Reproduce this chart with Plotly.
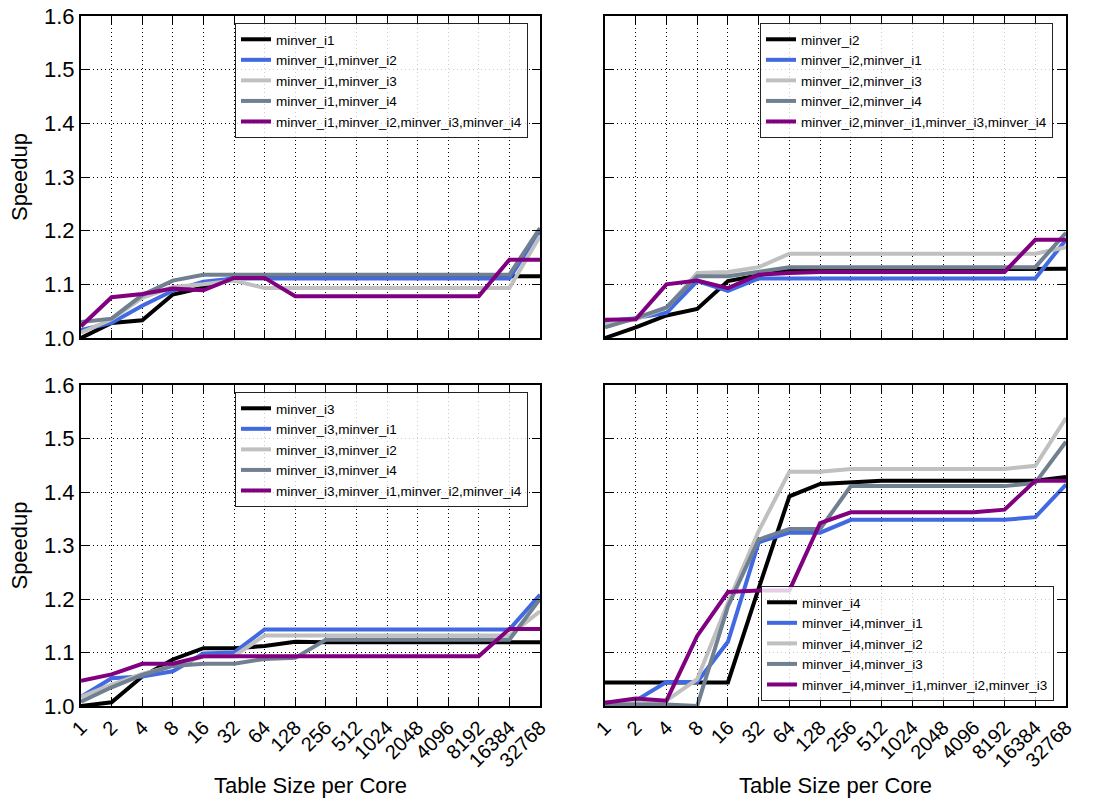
import plotly.graph_objects as go

categories = ["1", "2", "4", "8", "16", "32", "64", "128", "256", "512",
              "1024", "2048", "4096", "8192", "16384", "32768"]

# Panel 1: minver_i1
p1_names = ["minver_i1", "minver_i1,minver_i2", "minver_i1,minver_i3",
            "minver_i1,minver_i4", "minver_i1,minver_i2,minver_i3,minver_i4"]
p1_black = [1.0, 1.028, 1.033, 1.081, 1.094, 1.113, 1.113, 1.113, 1.113, 1.113, 1.113, 1.113, 1.113, 1.113, 1.115, 1.115]
p1_blue = [1.015, 1.028, 1.06, 1.088, 1.105, 1.111, 1.111, 1.111, 1.111, 1.111, 1.111, 1.111, 1.111, 1.111, 1.111, 1.2]
p1_silver = [1.01, 1.035, 1.075, 1.095, 1.1, 1.107, 1.093, 1.093, 1.093, 1.093, 1.093, 1.093, 1.093, 1.093, 1.093, 1.19]
p1_slate = [1.03, 1.036, 1.08, 1.107, 1.118, 1.118, 1.118, 1.118, 1.118, 1.118, 1.118, 1.118, 1.118, 1.118, 1.118, 1.205]
p1_purple = [1.022, 1.076, 1.082, 1.092, 1.089, 1.112, 1.112, 1.078, 1.078, 1.078, 1.078, 1.078, 1.078, 1.078, 1.146, 1.146]

# Panel 2: minver_i2
p2_names = ["minver_i2", "minver_i2,minver_i1", "minver_i2,minver_i3",
            "minver_i2,minver_i4", "minver_i2,minver_i1,minver_i3,minver_i4"]
p2_black = [1.0, 1.02, 1.042, 1.054, 1.106, 1.117, 1.128, 1.128, 1.128, 1.128, 1.128, 1.128, 1.128, 1.128, 1.129, 1.129]
p2_blue = [1.031, 1.037, 1.047, 1.106, 1.088, 1.111, 1.111, 1.111, 1.111, 1.111, 1.111, 1.111, 1.111, 1.111, 1.111, 1.183]
p2_silver = [1.025, 1.035, 1.056, 1.121, 1.123, 1.132, 1.157, 1.157, 1.157, 1.157, 1.157, 1.157, 1.157, 1.157, 1.157, 1.169]
p2_slate = [1.02, 1.037, 1.057, 1.115, 1.115, 1.124, 1.132, 1.132, 1.132, 1.132, 1.132, 1.132, 1.132, 1.132, 1.132, 1.196]
p2_purple = [1.034, 1.035, 1.1, 1.107, 1.093, 1.118, 1.121, 1.123, 1.123, 1.123, 1.123, 1.123, 1.123, 1.123, 1.183, 1.183]

# Panel 3: minver_i3
p3_names = ["minver_i3", "minver_i3,minver_i1", "minver_i3,minver_i2",
            "minver_i3,minver_i4", "minver_i3,minver_i1,minver_i2,minver_i4"]
p3_black = [1.0, 1.007, 1.055, 1.087, 1.108, 1.108, 1.112, 1.12, 1.119, 1.119, 1.119, 1.119, 1.119, 1.119, 1.119, 1.119]
p3_blue = [1.017, 1.052, 1.055, 1.065, 1.098, 1.1, 1.143, 1.143, 1.143, 1.143, 1.143, 1.143, 1.143, 1.143, 1.143, 1.208]
p3_silver = [1.017, 1.04, 1.06, 1.075, 1.093, 1.093, 1.132, 1.132, 1.132, 1.132, 1.132, 1.132, 1.132, 1.132, 1.132, 1.177]
p3_slate = [1.008, 1.035, 1.058, 1.075, 1.079, 1.079, 1.088, 1.09, 1.124, 1.124, 1.124, 1.124, 1.124, 1.124, 1.124, 1.2]
p3_purple = [1.047, 1.059, 1.079, 1.079, 1.093, 1.093, 1.093, 1.093, 1.093, 1.093, 1.093, 1.093, 1.093, 1.093, 1.144, 1.144]

# Panel 4: minver_i4
p4_names = ["minver_i4", "minver_i4,minver_i1", "minver_i4,minver_i2",
            "minver_i4,minver_i3", "minver_i4,minver_i1,minver_i2,minver_i3"]
p4_black = [1.044, 1.044, 1.044, 1.044, 1.044, 1.22, 1.392, 1.415, 1.418, 1.421, 1.421, 1.421, 1.421, 1.421, 1.421, 1.428]
p4_blue = [1.006, 1.01, 1.045, 1.045, 1.12, 1.306, 1.324, 1.324, 1.348, 1.348, 1.348, 1.348, 1.348, 1.348, 1.353, 1.414]
p4_silver = [1.006, 1.006, 1.01, 1.05, 1.193, 1.327, 1.438, 1.438, 1.443, 1.443, 1.443, 1.443, 1.443, 1.443, 1.449, 1.538]
p4_slate = [1.003, 1.003, 1.003, 1.0, 1.186, 1.311, 1.331, 1.331, 1.411, 1.411, 1.411, 1.411, 1.411, 1.411, 1.417, 1.494]
p4_purple = [1.006, 1.014, 1.01, 1.131, 1.213, 1.216, 1.216, 1.342, 1.362, 1.362, 1.362, 1.362, 1.362, 1.367, 1.421, 1.421]

y_ticks = [1.0, 1.1, 1.2, 1.3, 1.4, 1.5, 1.6]
y_ticklabels = ["1.0", "1.1", "1.2", "1.3", "1.4", "1.5", "1.6"]

colors = ["#000000", "#4169E1", "#C0C0C0", "#708090", "#800080"]
FONT = "Liberation Sans, Arial, sans-serif"

W, H = 1097, 809
# pixel boxes of plot areas in the window: (left, right, top, bottom)
boxes = [(81, 540, 16, 338), (605, 1066, 16, 338), (81, 540, 385, 706), (605, 1066, 385, 706)]
# legend anchor points in the window: (x_left, y, y-anchor)
legend_pos = [(235, 23, "top"), (760, 23, "top"), (235, 392, "top"), (761, 701, "bottom")]

panels = [
    (p1_names, [p1_black, p1_blue, p1_silver, p1_slate, p1_purple]),
    (p2_names, [p2_black, p2_blue, p2_silver, p2_slate, p2_purple]),
    (p3_names, [p3_black, p3_blue, p3_silver, p3_slate, p3_purple]),
    (p4_names, [p4_black, p4_blue, p4_silver, p4_slate, p4_purple]),
]

fig = go.Figure()
layout = dict(
    width=W, height=H,
    margin=dict(l=0, r=0, t=0, b=0, autoexpand=False),
    paper_bgcolor="white", plot_bgcolor="white",
    font=dict(family=FONT, color="black"),
)

for i, (names, series) in enumerate(panels):
    k = i + 1
    xa = "x" if k == 1 else f"x{k}"
    ya = "y" if k == 1 else f"y{k}"
    lg = "legend" if k == 1 else f"legend{k}"
    for name, vals, col in zip(names, series, colors):
        fig.add_trace(go.Scatter(
            x=categories, y=vals, name=name, mode="lines",
            line=dict(color=col, width=4),
            xaxis=xa, yaxis=ya, legend=lg,
        ))
    l, r, t, b = boxes[i]
    xkey = "xaxis" if k == 1 else f"xaxis{k}"
    ykey = "yaxis" if k == 1 else f"yaxis{k}"
    bottom_row = k in (3, 4)
    left_col = k in (1, 3)
    layout[xkey] = dict(
        domain=[l / W, r / W], anchor=ya, automargin=False,
        type="category", categoryorder="array", categoryarray=categories,
        range=[0, 15],
        showline=True, linewidth=2, linecolor="black", mirror="ticks",
        ticks="inside", ticklen=8, tickwidth=1, tickcolor="black",
        showgrid=True, gridcolor="black", gridwidth=1, griddash="1px,3px",
        showticklabels=bottom_row, tickangle=-45, ticklabeloverflow="allow",
        tickfont=dict(size=20, family=FONT, color="black"),
        title=dict(text="Table Size per Core" if bottom_row else "",
                   font=dict(size=22, family=FONT, color="black"), standoff=7),
        zeroline=False,
    )
    layout[ykey] = dict(
        domain=[(H - b) / H, (H - t) / H], anchor=xa, automargin=False,
        range=[1.0, 1.6], tickvals=y_ticks, ticktext=y_ticklabels,
        showline=True, linewidth=2, linecolor="black", mirror="ticks",
        ticks="inside", ticklen=8, tickwidth=1, tickcolor="black",
        showgrid=True, gridcolor="black", gridwidth=1, griddash="1px,3px",
        showticklabels=left_col, ticklabeloverflow="allow",
        tickfont=dict(size=22, family=FONT, color="black"),
        title=dict(text="Speedup" if left_col else "",
                   font=dict(size=22, family=FONT, color="black"), standoff=10),
        zeroline=False,
    )
    lx, ly, yanc = legend_pos[i]
    layout[lg] = dict(
        x=lx / W, y=(H - ly) / H, xanchor="left", yanchor=yanc,
        bgcolor="rgba(255,255,255,0.8)", bordercolor="#222222", borderwidth=1,
        font=dict(size=13.5, family=FONT, color="black"),
    )

fig.update_layout(**layout)
fig.write_html("out.html", config={"displayModeBar": False},
               post_script="document.body.style.margin='0';")
